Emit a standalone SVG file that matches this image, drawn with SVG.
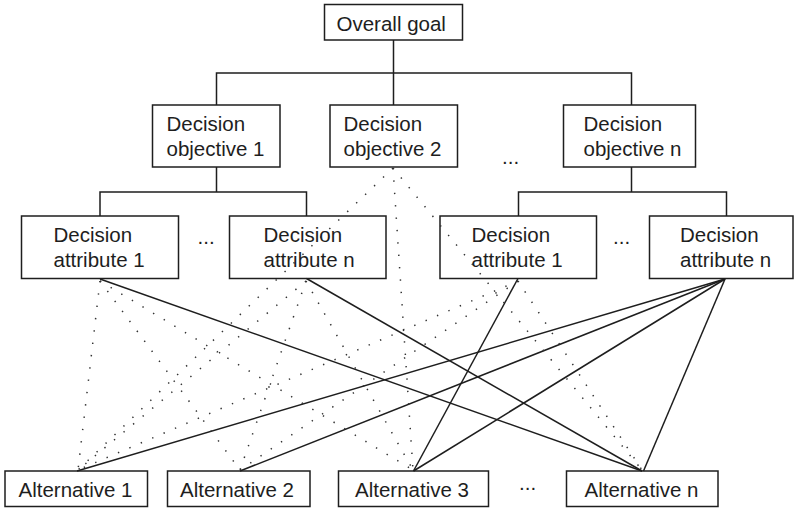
<svg xmlns="http://www.w3.org/2000/svg" width="800" height="509" viewBox="0 0 800 509">
  <style>
    .box { fill: none; stroke: #1e1e1e; stroke-width: 1.5; }
    .lbl { font-family: "Liberation Sans", Arial, sans-serif; font-size: 20.5px; fill: #1e1e1e; }
    .tree { fill: none; stroke: #1e1e1e; stroke-width: 1.5; }
    .solid { stroke: #1e1e1e; stroke-width: 1.5; }
    .dot { stroke: #333; stroke-width: 1.5; stroke-dasharray: 1.4 11; }
  </style>
  <rect width="800" height="509" fill="#fff"/>

  <!-- hierarchy nodes -->
  <g id="goal">
    <rect class="box" x="324.5" y="4.5" width="138" height="35.5"/>
    <text class="lbl" x="336.5" y="30.5">Overall goal</text>
  </g>
  <g id="objective-1">
    <rect class="box" x="152.5" y="105" width="127.5" height="62"/>
    <text class="lbl" x="166.5" y="130.5">Decision</text>
    <text class="lbl" x="166.5" y="155.5">objective 1</text>
  </g>
  <g id="objective-2">
    <rect class="box" x="330" y="105" width="127.5" height="62"/>
    <text class="lbl" x="343.5" y="130.5">Decision</text>
    <text class="lbl" x="343.5" y="155.5">objective 2</text>
  </g>
  <g id="objective-ellipsis">
    <text class="lbl" x="502" y="164">...</text>
  </g>
  <g id="objective-n">
    <rect class="box" x="563.5" y="105" width="132" height="62"/>
    <text class="lbl" x="583.5" y="130.5">Decision</text>
    <text class="lbl" x="583.5" y="155.5">objective n</text>
  </g>

  <g id="attribute-1a">
    <rect class="box" x="21.5" y="216" width="157" height="62.5"/>
    <text class="lbl" x="53.5" y="241.5">Decision</text>
    <text class="lbl" x="53.5" y="267">attribute 1</text>
  </g>
  <g id="attribute-ellipsis-a">
    <text class="lbl" x="197.5" y="243.5">...</text>
  </g>
  <g id="attribute-na">
    <rect class="box" x="229.5" y="216" width="156.5" height="62.5"/>
    <text class="lbl" x="263.5" y="241.5">Decision</text>
    <text class="lbl" x="263.5" y="267">attribute n</text>
  </g>
  <g id="attribute-1b">
    <rect class="box" x="440" y="216" width="156.5" height="62.5"/>
    <text class="lbl" x="471.5" y="241.5">Decision</text>
    <text class="lbl" x="471.5" y="267">attribute 1</text>
  </g>
  <g id="attribute-ellipsis-b">
    <text class="lbl" x="613" y="243.5">...</text>
  </g>
  <g id="attribute-nb">
    <rect class="box" x="649.5" y="216" width="143.5" height="62.5"/>
    <text class="lbl" x="680" y="241.5">Decision</text>
    <text class="lbl" x="680" y="267">attribute n</text>
  </g>

  <g id="alternative-1">
    <rect class="box" x="5" y="471" width="142.5" height="35.5"/>
    <text class="lbl" x="18.5" y="496.5">Alternative 1</text>
  </g>
  <g id="alternative-2">
    <rect class="box" x="167.5" y="471" width="142.5" height="35.5"/>
    <text class="lbl" x="180" y="496.5">Alternative 2</text>
  </g>
  <g id="alternative-3">
    <rect class="box" x="338.5" y="471" width="150" height="35.5"/>
    <text class="lbl" x="355" y="496.5">Alternative 3</text>
  </g>
  <g id="alternative-ellipsis">
    <text class="lbl" x="519" y="490">...</text>
  </g>
  <g id="alternative-n">
    <rect class="box" x="566.5" y="471" width="151.5" height="35.5"/>
    <text class="lbl" x="584.5" y="496.5">Alternative n</text>
  </g>

  <!-- connectors -->
  <g id="connectors">
    <!-- tree branches -->
    <path class="tree" d="M393.5 40 V73 M216.5 105 V73 H631.5 V105 M393.5 73 V105"/>
    <path class="tree" d="M216.5 167 V192 M100 216 V192 H306.5 V216"/>
    <path class="tree" d="M631.5 167 V192 M518.5 216 V192 H726.5 V216"/>

    <!-- strong links -->
    <line class="solid" x1="100" y1="279" x2="642" y2="471"/>
    <line class="solid" x1="306.5" y1="278.5" x2="642" y2="471"/>
    <line class="solid" x1="518" y1="278.5" x2="413.5" y2="471"/>
    <line class="solid" x1="725" y1="279" x2="77" y2="471"/>
    <line class="solid" x1="725" y1="279" x2="240" y2="471"/>
    <line class="solid" x1="725" y1="279" x2="413.5" y2="471"/>
    <line class="solid" x1="725" y1="279" x2="643.5" y2="471"/>

    <!-- weak links -->
    <line class="dot" x1="393" y1="168" x2="78" y2="470"/>
    <line class="dot" x1="393" y1="168" x2="413" y2="470"/>
    <line class="dot" x1="393" y1="168" x2="642" y2="470"/>
    <line class="dot" x1="100" y1="281" x2="78" y2="470"/>
    <line class="dot" x1="100" y1="281" x2="240" y2="470"/>
    <line class="dot" x1="100" y1="281" x2="413" y2="470"/>
    <line class="dot" x1="306" y1="281" x2="78" y2="470"/>
    <line class="dot" x1="306" y1="281" x2="240" y2="470"/>
    <line class="dot" x1="306" y1="281" x2="413" y2="470"/>
    <line class="dot" x1="518" y1="281" x2="78" y2="470"/>
    <line class="dot" x1="518" y1="281" x2="240" y2="470"/>
    <line class="dot" x1="518" y1="281" x2="642" y2="470"/>
  </g>
</svg>
